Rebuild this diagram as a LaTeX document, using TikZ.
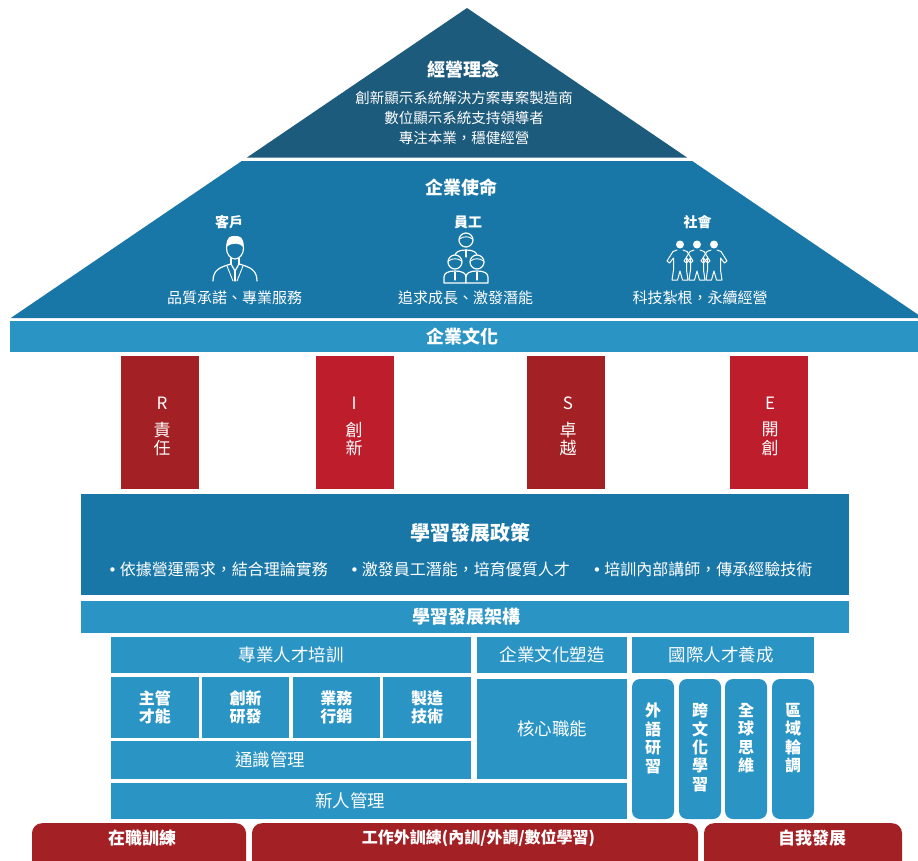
\documentclass[tikz,border=0pt]{standalone}
\usepackage{fontspec}
\setmainfont{Noto Sans CJK TC}
\newfontfamily\dvs{DejaVu Sans}
\definecolor{cdark}{HTML}{1D5B7D}
\definecolor{cmid}{HTML}{1977A8}
\definecolor{clight}{HTML}{2A94C4}
\definecolor{rdark}{HTML}{A32025}
\definecolor{rbright}{HTML}{BE1D2C}
\newcommand\fsz[2]{\fontsize{#1}{#2}\selectfont}
\newcommand\bul{{\dvs\fsz{15}{18}•}\hspace{3pt}}
\begin{document}
\begin{tikzpicture}[x=1pt,y=-1pt,
  txt/.style={text=white, inner sep=0pt, align=center},
  blk/.style={fill=clight, inner sep=0pt, text=white, align=center},
  pill/.style={fill=clight, rounded corners=8pt, inner sep=0pt, minimum width=42pt, minimum height=140pt},
  tab/.style={fill=rdark, rounded corners=10pt, inner sep=0pt, minimum height=60pt, anchor=north},
  pillar/.style={inner sep=0pt, minimum width=78pt, minimum height=133pt},
  icon/.style={draw=white, line width=1.2pt, line join=round, line cap=round}
]
\useasboundingbox (0,0) rectangle (918,860);
\fill[white] (0,0) rectangle (918,860);

% roof
\fill[cdark] (467,8) -- (687,157.5) -- (247,157.5) -- cycle;
\fill[cmid] (241.8,161) -- (692.2,161) -- (923,318) -- (10.8,318) -- cycle;

\node[txt, font=\fsz{18}{20}\bfseries] (philT) at (463,70) {經營理念};
\node[txt, font=\fsz{14.5}{20}] (phil1) at (464,98) {創新顯示系統解決方案專案製造商};
\node[txt, font=\fsz{14.5}{20}] (phil2) at (464,118) {數位顯示系統支持領導者};
\node[txt, font=\fsz{14.5}{20}] (phil3) at (464,138) {專注本業，穩健經營};

\node[txt, font=\fsz{18}{20}\bfseries] (missT) at (461,188) {企業使命};
\node[txt, font=\fsz{14}{16}\bfseries] (cust) at (229,222) {客戶};
\node[txt, font=\fsz{14}{16}\bfseries] (staff) at (468,222) {員工};
\node[txt, font=\fsz{14}{16}\bfseries] (soc) at (697.5,222) {社會};
\node[txt, font=\fsz{15}{17}] (custC) at (234.5,298) {品質承諾、專業服務};
\node[txt, font=\fsz{15}{17}] (staffC) at (465.5,298) {追求成長、激發潛能};
\node[txt, font=\fsz{15}{17}] (socC) at (700,298) {科技紮根，永續經營};

% icon 1: customer
\draw[icon] (235,248) ellipse[x radius=8.5, y radius=11];
\fill[white] (226.5,247) .. controls (226,236) and (231,236) .. (235,236) .. controls (240,236) and (244,237) .. (243.5,247) .. controls (240,243) and (232,242) .. (226.5,247) -- cycle;
\draw[icon] (231,258.5) -- (231,264) (239,258.5) -- (239,264);
\draw[icon] (213,281) .. controls (213,270) and (220,267) .. (231,264);
\draw[icon] (257,281) .. controls (257,270) and (250,267) .. (239,264);
\draw[icon] (231,264) -- (235,271) -- (239,264);
\draw[icon] (235,271) -- (235,281);
\draw[icon, line width=0.9pt] (227,266) -- (233,281) (243,266) -- (237,281);

% icon 2: staff
\draw[icon] (466,240) circle[radius=7];
\draw[icon, line width=0.9pt] (459.5,239) .. controls (463,236) and (469,236) .. (472.5,239);
\draw[icon] (455,259) -- (455,256) .. controls (455,252) and (459,250) .. (466,250) .. controls (473,250) and (477,252) .. (477,256) -- (477,259);
\draw[icon] (466,250) -- (466,257);
\foreach \cx in {455,477}{
  \filldraw[icon, fill=cmid] (\cx-11,283) -- (\cx-11,277) .. controls (\cx-11,273) and (\cx-7,271) .. (\cx,271) .. controls (\cx+7,271) and (\cx+11,273) .. (\cx+11,277) -- (\cx+11,283) -- cycle;
  \filldraw[icon, fill=cmid] (\cx,262) circle[radius=7];
  \draw[icon, line width=0.9pt] (\cx-6.5,261) .. controls (\cx-3,258) and (\cx+3,258) .. (\cx+6.5,261);
  \draw[icon] (\cx,272) -- (\cx,280);
}

% icon 3: society
\foreach \cx in {680,697,714}{
  \fill[white] (\cx,244.5) circle[radius=4];
  \draw[icon, line width=1pt] (\cx-3,250) -- (\cx-7,251.5) -- (\cx-13,261) -- (\cx-10.5,263) -- (\cx-6.5,258) -- (\cx-6.5,270) -- (\cx-8,280) -- (\cx-2.5,280) -- (\cx,271) -- (\cx+2.5,280) -- (\cx+8,280) -- (\cx+6.5,270) -- (\cx+6.5,258) -- (\cx+10.5,263) -- (\cx+13,261) -- (\cx+7,251.5) -- (\cx+3,250);
}

% culture bar
\node[blk, minimum width=913pt, minimum height=31pt] (culbar) at (466.5,336.5) {};
\node[txt, font=\fsz{18}{20}\bfseries] (culT) at (462,337) {企業文化};

% pillars
\node[pillar, fill=rdark] (pR) at (160,422.5) {};
\node[pillar, fill=rbright] (pI) at (355,422.5) {};
\node[pillar, fill=rdark] (pS) at (566,422.5) {};
\node[pillar, fill=rbright] (pE) at (769,422.5) {};
\node[txt, font=\fsz{17}{19}] (lR) at (162,403) {R};
\node[txt, font=\fsz{17}{18.5}] (cR) at (162,439) {責\\任};
\node[txt, font=\fsz{17}{19}] (lI) at (354,403) {I};
\node[txt, font=\fsz{17}{18.5}] (cI) at (354,439) {創\\新};
\node[txt, font=\fsz{17}{19}] (lS) at (568,403) {S};
\node[txt, font=\fsz{17}{18.5}] (cS) at (568,439) {卓\\越};
\node[txt, font=\fsz{17}{19}] (lE) at (770,403) {E};
\node[txt, font=\fsz{17}{18.5}] (cE) at (770,439) {開\\創};

% policy
\node[blk, fill=cmid, minimum width=768pt, minimum height=101pt] (policy) at (465,544.5) {};
\node[txt, font=\fsz{20}{22}\bfseries] (polT) at (470.5,533) {學習發展政策};
\node[txt, font=\fsz{16}{18}] (b1) at (218,569) {\bul 依據營運需求，結合理論實務};
\node[txt, font=\fsz{16}{18}] (b2) at (460,569) {\bul 激發員工潛能，培育優質人才};
\node[txt, font=\fsz{16}{18}] (b3) at (702.5,569) {\bul 培訓內部講師，傳承經驗技術};

% framework
\node[blk, minimum width=768pt, minimum height=32pt] (frame) at (465,617) {};
\node[txt, font=\fsz{18}{20}\bfseries] (frameT) at (466,617) {學習發展架構};

% lower section
\node[blk, minimum width=360pt, minimum height=36pt, font=\fsz{17.5}{19}] (pro) at (291,655) {專業人才培訓};
\node[blk, minimum width=87.75pt, minimum height=61pt, font=\fsz{16}{18}\bfseries] (s1) at (154.9,707.5) {主管\\才能};
\node[blk, minimum width=87.75pt, minimum height=61pt, font=\fsz{16}{18}\bfseries] (s2) at (245.6,707.5) {創新\\研發};
\node[blk, minimum width=87.75pt, minimum height=61pt, font=\fsz{16}{18}\bfseries] (s3) at (336.4,707.5) {業務\\行銷};
\node[blk, minimum width=87.75pt, minimum height=61pt, font=\fsz{16}{18}\bfseries] (s4) at (427.1,707.5) {製造\\技術};
\node[blk, minimum width=360pt, minimum height=38pt] (gen) at (291,760) {};
\node[txt, font=\fsz{17.5}{19}] (genT) at (270,760) {通識管理};
\node[blk, minimum width=516pt, minimum height=36pt] (newp) at (369,801) {};
\node[txt, font=\fsz{17.5}{19}] (newT) at (350,801) {新人管理};
\node[blk, minimum width=150pt, minimum height=36pt, font=\fsz{17.5}{19}] (cul) at (552,655) {企業文化塑造};
\node[blk, minimum width=150pt, minimum height=100pt, font=\fsz{17.5}{19}] (core) at (552,729) {核心職能};
\node[blk, minimum width=182pt, minimum height=36pt] (intl) at (723,655) {};
\node[txt, font=\fsz{17.5}{19}] (intlT) at (721,655) {國際人才養成};

\node[pill] (q1) at (653,749) {};
\node[pill] (q2) at (700,749) {};
\node[pill] (q3) at (746,749) {};
\node[pill] (q4) at (793,749) {};
\node[txt, anchor=north, font=\fsz{16}{18.4}\bfseries] (q1T) at (653,703) {外\\語\\研\\習};
\node[txt, anchor=north, font=\fsz{16}{18.4}\bfseries] (q2T) at (700,703) {跨\\文\\化\\學\\習};
\node[txt, anchor=north, font=\fsz{16}{18.4}\bfseries] (q3T) at (746,703) {全\\球\\思\\維};
\node[txt, anchor=north, font=\fsz{16}{18.4}\bfseries] (q4T) at (793,703) {區\\域\\輪\\調};

% bottom tabs
\node[tab, minimum width=214pt] (t1) at (139,823) {};
\node[tab, minimum width=446pt] (t2) at (475,823) {};
\node[tab, minimum width=198pt] (t3) at (803,823) {};
\node[txt, font=\fsz{17}{19}\bfseries] (t1T) at (142,838) {在職訓練};
\node[txt, font=\fsz{16}{18}\bfseries] (t2T) at (478.5,838) {工作外訓練(內訓/外調/數位學習)};
\node[txt, font=\fsz{17}{19}\bfseries] (t3T) at (812,838) {自我發展};
\end{tikzpicture}
\end{document}
